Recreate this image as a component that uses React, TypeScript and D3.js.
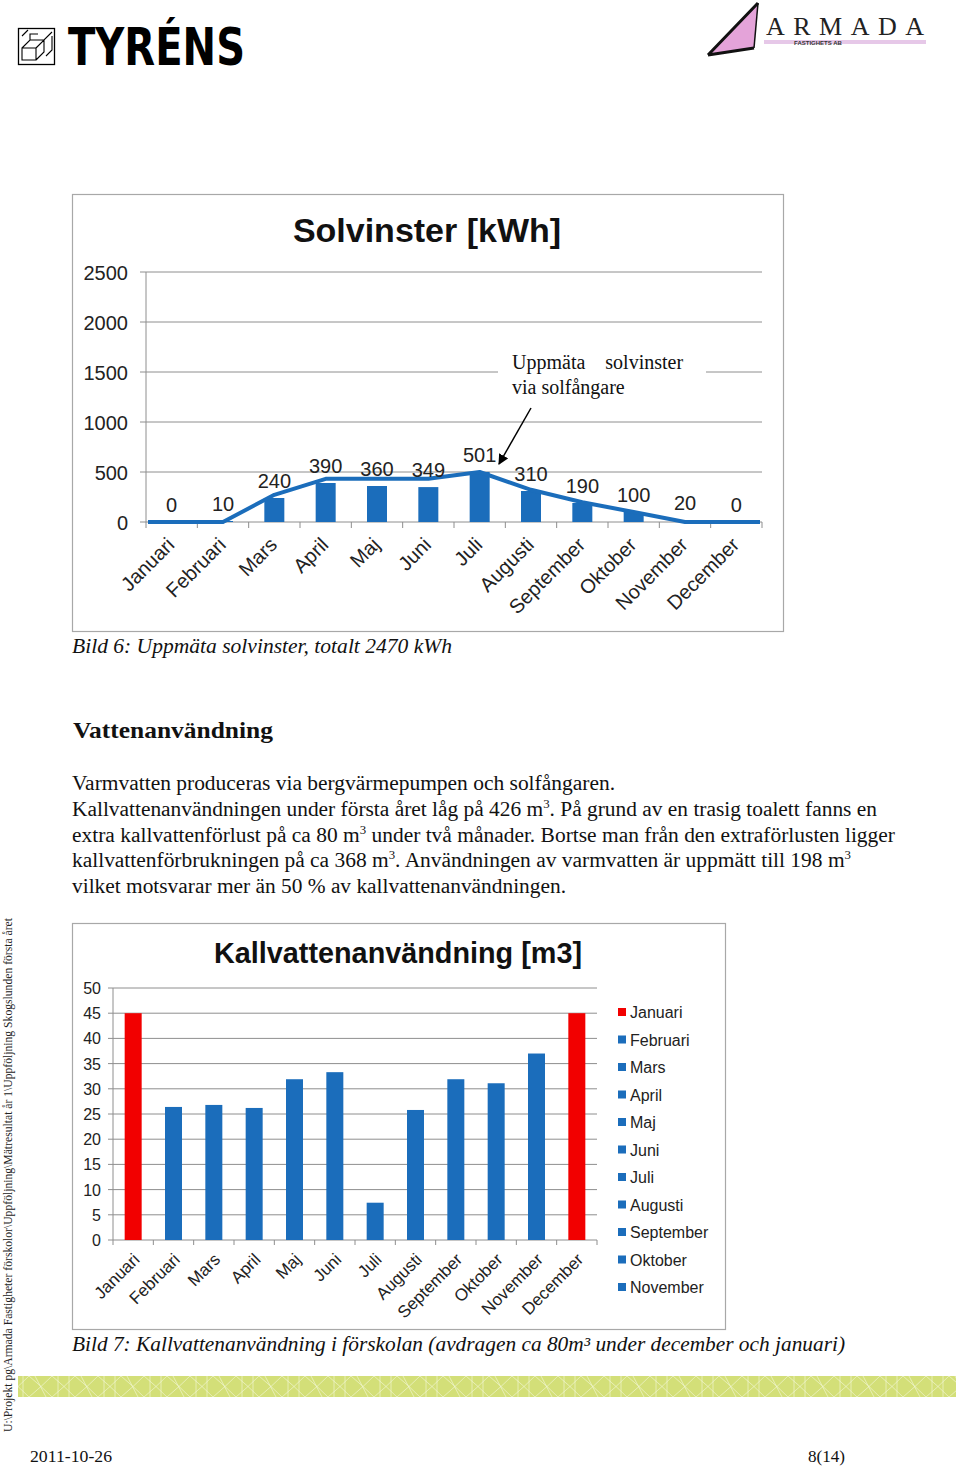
import React from 'react';
import * as d3 from 'd3';

const months = ['Januari', 'Februari', 'Mars', 'April', 'Maj', 'Juni', 'Juli', 'Augusti', 'September', 'Oktober', 'November', 'December'];
const solarBars = [0, 10, 240, 390, 360, 349, 501, 310, 190, 100, 20, 0];
const solarLine = [0, 0, 272, 432, 432, 432, 500, 322, 197, 100, 0, 0];
const solarTicks = [0, 500, 1000, 1500, 2000, 2500];
const waterValues = [45, 26.4, 26.8, 26.2, 31.9, 33.3, 7.4, 25.8, 31.9, 31.1, 37.0, 45];
const waterRed = ['Januari', 'December'];
const waterTicks = [0, 5, 10, 15, 20, 25, 30, 35, 40, 45, 50];
const legendItems = ['Januari', 'Februari', 'Mars', 'April', 'Maj', 'Juni', 'Juli', 'Augusti', 'September', 'Oktober', 'November'];

const paragraph = [
  { segs: [{ t: 'Varmvatten produceras via bergvärmepumpen och solfångaren.' }], w: 543 },
  { segs: [{ t: 'Kallvattenanvändningen under första året låg på 426 m' }, { t: '3', sup: true }, { t: '. På grund av en trasig toalett fanns en' }], w: 805 },
  { segs: [{ t: 'extra kallvattenförlust på ca 80 m' }, { t: '3', sup: true }, { t: ' under två månader. Bortse man från den extraförlusten ligger' }], w: 823 },
  { segs: [{ t: 'kallvattenförbrukningen på ca 368 m' }, { t: '3', sup: true }, { t: '. Användningen av varmvatten är uppmätt till 198 m' }, { t: '3', sup: true }], w: 779 },
  { segs: [{ t: 'vilket motsvarar mer än 50 % av kallvattenanvändningen.' }], w: 494 },
];

const BLUE = '#1b6dbb';
const RED = '#f20000';
const GRID = '#8e8e8e';
const SANS = '"Liberation Sans", Arial, sans-serif';
const SERIF = '"Liberation Serif", "Times New Roman", serif';

export default function App() {
  // top chart scales
  const xs = d3.scaleBand<string>().domain(months).range([146, 762]);
  const ys = d3.scaleLinear().domain([0, 2500]).range([522, 272]);
  const bw = 20;
  const linePts: [number, number][] = solarLine.map((v, i) => {
    const x = i === 0 ? xs.range()[0] + 2 : i === months.length - 1 ? xs.range()[1] - 2 : (xs(months[i]) as number) + xs.bandwidth() / 2;
    return [x, ys(v)];
  });
  const linePath = d3.line()(linePts) as string;

  // bottom chart scales
  const xb = d3.scaleBand<string>().domain(months).range([113, 597]);
  const yb = d3.scaleLinear().domain([0, 50]).range([1240, 988]);
  const bw2 = 17;

  return (
    <svg width={960} height={1467} style={{ position: 'absolute', left: 0, top: 0, background: '#fff' }}>
      <defs>
        <pattern id="band" width="46" height="21" patternUnits="userSpaceOnUse" x="18" y="1376">
          <rect width="46" height="21" fill="#d3df78" />
          <path d="M0 10.5 L11 0 L23 10.5 L11 21 Z M23 10.5 L34 0 L46 10.5 L34 21 Z M5 0 L5 21 M17 0 L28 21 M40 0 L40 21" fill="none" stroke="#f3f7d8" strokeWidth="0.8" opacity="0.8" />
        </pattern>
        <marker id="arrow" viewBox="0 0 10 10" refX="9" refY="5" markerWidth="7" markerHeight="7" orient="auto">
          <path d="M0 0 L10 5 L0 10 Z" fill="#000" />
        </marker>
      </defs>

      {/* Tyréns logo */}
      <g>
        <rect x={18.5} y={28.5} width={36} height={36} fill="#fff" stroke="#000" strokeWidth={1.3} />
        <path d="M22 48 L30 40 L44 40 L52 32 M22 48 L22 60 L36 60 L36 48 Z M36 48 L44 40 L44 52 L36 60 M30 40 L30 34 L38 34 M22 36 L28 30 M46 56 L52 50 L52 36" fill="none" stroke="#000" strokeWidth={1.1} />
        <text x={68} y={65} fontFamily='"DejaVu Sans", sans-serif' fontWeight="bold" fontSize={52} textLength={177} lengthAdjust="spacingAndGlyphs" fill="#000">TYRÉNS</text>
      </g>

      {/* Armada logo */}
      <g>
        <path d="M708 55 L758 3 L754 48 Z" fill="#e4a3d9" />
        <path d="M708 55 L758 3 M708 55 L754 48" stroke="#111" strokeWidth={3} fill="none" />
        <path d="M758 3 L754 48" stroke="#111" strokeWidth={1.5} fill="none" />
        <text x={766} y={35} fontFamily={SERIF} fontSize={26} textLength={158} lengthAdjust="spacing" fill="#222">ARMADA</text>
        <rect x={764} y={40} width={162} height={4} fill="#e6c8e8" />
        <text x={818} y={45} fontFamily={SANS} fontSize={6} fontWeight="bold" textAnchor="middle" fill="#333">FASTIGHETS AB</text>
      </g>

      {/* Top chart */}
      <g>
        <rect x={72.5} y={194.5} width={711} height={437} fill="#fff" stroke="#a8a8a8" strokeWidth={1.2} />
        <text x={427} y={242} textAnchor="middle" fontFamily={SANS} fontWeight="bold" fontSize={34} fill="#111">Solvinster [kWh]</text>
        {solarTicks.map((t) => (
          <g key={t}>
            {t > 0 && <line x1={146} x2={762} y1={ys(t)} y2={ys(t)} stroke={GRID} strokeWidth={1} />}
            <line x1={140} x2={146} y1={ys(t)} y2={ys(t)} stroke={GRID} />
            <text x={128} y={ys(t) + 7.5} textAnchor="end" fontFamily={SANS} fontSize={20} fill="#222">{t}</text>
          </g>
        ))}
        <line x1={146} x2={146} y1={272} y2={522} stroke={GRID} />
        <line x1={146} x2={762} y1={522} y2={522} stroke={GRID} />
        {months.map((m) => (
          <line key={m} x1={xs(m) as number} x2={xs(m) as number} y1={522} y2={528} stroke={GRID} />
        ))}
        <line x1={762} x2={762} y1={522} y2={528} stroke={GRID} />
        {months.map((m, i) => (
          <rect key={m} x={(xs(m) as number) + xs.bandwidth() / 2 - bw / 2} y={ys(solarBars[i])} width={bw} height={ys(0) - ys(solarBars[i])} fill={BLUE} />
        ))}
        <path d={linePath} fill="none" stroke={BLUE} strokeWidth={4} strokeLinejoin="round" />
        {months.map((m, i) => (
          <text key={m} x={(xs(m) as number) + xs.bandwidth() / 2} y={ys(solarBars[i]) - 10} textAnchor="middle" fontFamily={SANS} fontSize={20} fill="#222">{solarBars[i]}</text>
        ))}
        {months.map((m) => (
          <text key={m} transform={`translate(${(xs(m) as number) + xs.bandwidth() / 2 - 6},${536}) rotate(-45)`} dy="0.71em" textAnchor="end" fontFamily={SANS} fontSize={20} fill="#222">{m}</text>
        ))}
        {/* annotation */}
        <rect x={498} y={350} width={208} height={48} fill="#fff" />
        <text x={512} y={369} fontFamily={SERIF} fontSize={20} fill="#111" style={{ whiteSpace: 'pre' }}>{'Uppmäta    solvinster'}</text>
        <text x={512} y={394} fontFamily={SERIF} fontSize={20} fill="#111">via solfångare</text>
        <line x1={531} y1={408} x2={499} y2={464} stroke="#000" strokeWidth={1.5} markerEnd="url(#arrow)" />
      </g>

      <text x={72} y={653} fontFamily={SERIF} fontStyle="italic" fontSize={20} textLength={380} lengthAdjust="spacingAndGlyphs" fill="#111">Bild 6: Uppmäta solvinster, totalt 2470 kWh</text>

      <text x={73} y={738} fontFamily={SERIF} fontWeight="bold" fontSize={23} textLength={200} lengthAdjust="spacingAndGlyphs" fill="#111">Vattenanvändning</text>

      {paragraph.map((line, li) => (
        <text key={li} x={72} y={790 + li * 25.8} fontFamily={SERIF} fontSize={20} fill="#111" textLength={line.w} lengthAdjust="spacingAndGlyphs" style={{ whiteSpace: 'pre' }}>
          {line.segs.map((s, si) => (s as any).sup
            ? <tspan key={si} dy={-8} fontSize={12}>{s.t}</tspan>
            : <tspan key={si} dy={si > 0 ? 8 : 0}>{s.t}</tspan>)}
        </text>
      ))}

      {/* Bottom chart */}
      <g>
        <rect x={72.5} y={923.5} width={653} height={406} fill="#fff" stroke="#a8a8a8" strokeWidth={1.2} />
        <text x={398} y={963} textAnchor="middle" fontFamily={SANS} fontWeight="bold" fontSize={28.8} fill="#111">Kallvattenanvändning [m3]</text>
        {waterTicks.map((t) => (
          <g key={t}>
            {t > 0 && <line x1={113} x2={597} y1={yb(t)} y2={yb(t)} stroke={GRID} strokeWidth={1} />}
            <line x1={108} x2={113} y1={yb(t)} y2={yb(t)} stroke={GRID} />
            <text x={101} y={yb(t) + 6} textAnchor="end" fontFamily={SANS} fontSize={16} fill="#222">{t}</text>
          </g>
        ))}
        <line x1={113} x2={113} y1={988} y2={1240} stroke={GRID} />
        <line x1={113} x2={597} y1={1240} y2={1240} stroke={GRID} />
        {months.map((m) => (
          <line key={m} x1={xb(m) as number} x2={xb(m) as number} y1={1240} y2={1245} stroke={GRID} />
        ))}
        <line x1={597} x2={597} y1={1240} y2={1245} stroke={GRID} />
        {months.map((m, i) => (
          <rect key={m} x={(xb(m) as number) + xb.bandwidth() / 2 - bw2 / 2} y={yb(waterValues[i])} width={bw2} height={yb(0) - yb(waterValues[i])} fill={waterRed.includes(m) ? RED : BLUE} />
        ))}
        {months.map((m) => (
          <text key={m} transform={`translate(${(xb(m) as number) + xb.bandwidth() / 2 - 1},${1252}) rotate(-45)`} dy="0.71em" textAnchor="end" fontFamily={SANS} fontSize={17} fill="#222">{m}</text>
        ))}
        {legendItems.map((m, i) => (
          <g key={m}>
            <rect x={618} y={1008 + i * 27.5} width={8} height={8} fill={waterRed.includes(m) ? RED : BLUE} />
            <text x={630} y={1018 + i * 27.5} fontFamily={SANS} fontSize={16} fill="#222">{m}</text>
          </g>
        ))}
      </g>

      <text x={72} y={1351} fontFamily={SERIF} fontStyle="italic" fontSize={20} textLength={773} lengthAdjust="spacingAndGlyphs" fill="#111">Bild 7: Kallvattenanvändning i förskolan (avdragen ca 80m³ under december och januari)</text>

      <rect x={18} y={1376} width={938} height={21} fill="url(#band)" />

      <text transform="translate(12,1432) rotate(-90)" fontFamily={SERIF} fontSize={12} textLength={514} lengthAdjust="spacingAndGlyphs" fill="#222">U:\Projekt pg\Armada Fastigheter förskolor\Uppföljning\Mätresultat år 1\Uppföljning Skogslunden första året</text>

      <text x={30} y={1462} fontFamily={SERIF} fontSize={17} textLength={82} lengthAdjust="spacingAndGlyphs" fill="#111">2011-10-26</text>
      <text x={808} y={1462} fontFamily={SERIF} fontSize={17} textLength={37} lengthAdjust="spacingAndGlyphs" fill="#111">8(14)</text>
    </svg>
  );
}
